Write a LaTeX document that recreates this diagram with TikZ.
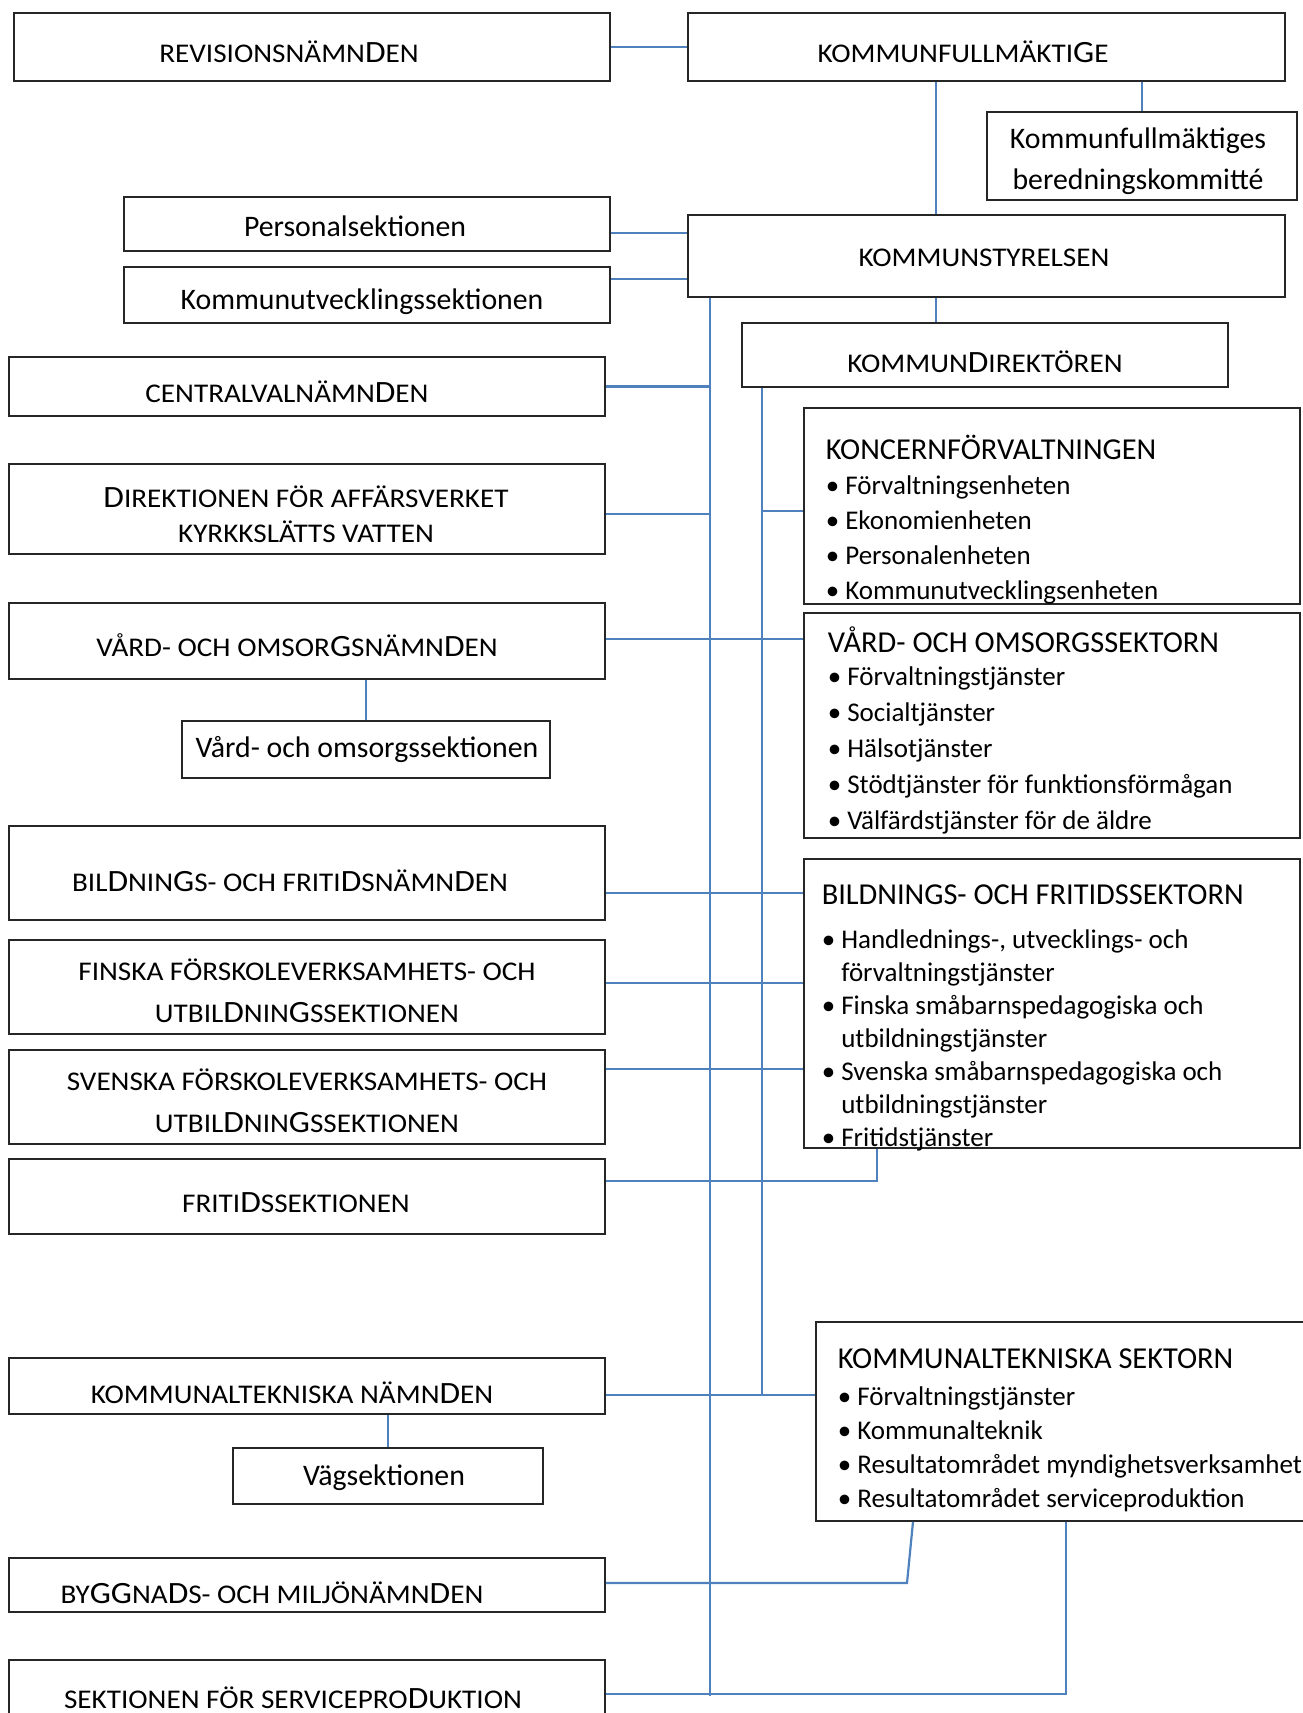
\documentclass[tikz,border=0pt]{standalone}
\usepackage{fontspec}
\setmainfont{Carlito}
\newfontfamily\scfont[FakeStretch=1.08]{Carlito}
\usetikzlibrary{fit}

\definecolor{linkblue}{RGB}{79,129,189}
\newcommand\bigD{{\fontsize{15.5}{16}\selectfont D}}
\newcommand\bigG{{\fontsize{15.5}{16}\selectfont G}}
\newcommand\itm{\textbullet\ }
\newcommand\ind{\hphantom{\textbullet\ }}
\newcommand\headfont{\fontsize{15.2}{17}\selectfont}

\tikzset{every picture/.style={line width=0.75pt},
  box/.style={draw=black!85, line width=0.8pt, inner sep=0pt},
  nmtext/.style={font=\scfont\fontsize{13.5}{#1}\selectfont, inner sep=0pt, align=center},
  nmtext/.default=17.5,
  lctext/.style={font=\fontsize{14.9}{#1}\selectfont, inner sep=0pt, align=center},
  lctext/.default=20.5,
  bullettext/.style={font=\fontsize{13.5}{#1}\selectfont, inner sep=0pt, align=left, anchor=north west},
  hline/.style={draw=linkblue, line width=1.1pt},
  vline/.style={draw=linkblue, line width=0.7pt}}

\begin{document}
\begin{tikzpicture}[x=0.5pt,y=0.5pt,yscale=-1,xscale=1]
\useasboundingbox (0,0) rectangle (1302,1713);

%Shape: Rectangle
\node [box, fit={(14,13) (610,81)}] (rev) {};
\node [box, fit={(688,13) (1285,81)}] (kf) {};
\node [box, fit={(987,112) (1297,200)}] (kfb) {};
\node [box, fit={(124,197) (610,251)}] (pers) {};
\node [box, fit={(688,215) (1285,297)}] (ks) {};
\node [box, fit={(124,267) (610,323)}] (kutv) {};
\node [box, fit={(742,323) (1228,387)}] (kd) {};
\node [box, fit={(9,357) (605,416)}] (cvn) {};
\node [box, fit={(9,464) (605,554)}] (dir) {};
\node [box, fit={(804,408) (1300,604)}] (konc) {};
\node [box, fit={(9,603) (605,679)}] (von) {};
\node [box, fit={(182,721) (550,778)}] (vos) {};
\node [box, fit={(804,613) (1300,838)}] (vosek) {};
\node [box, fit={(9,826) (605,920)}] (bfn) {};
\node [box, fit={(804,859) (1300,1148)}] (bfs) {};
\node [box, fit={(9,940) (605,1034)}] (fin) {};
\node [box, fit={(9,1050) (605,1144)}] (sve) {};
\node [box, fit={(9,1159) (605,1234)}] (frit) {};
\node [box, fit={(816,1322) (1330,1521)}] (ktsek) {};
\node [box, fit={(9,1358) (605,1414)}] (ktn) {};
\node [box, fit={(233,1448) (543,1504)}] (vag) {};
\node [box, fit={(9,1558) (605,1612)}] (bmn) {};
\node [box, fit={(9,1660) (605,1740)}] (sfs) {};

%Straight Lines
\coordinate (bustop) at (ks.south -| 710,0);
\coordinate (busend) at (710,1696);
\coordinate (kdbus) at (kd.south -| 762,0);
\coordinate (kdend) at (762,1395);
\coordinate (bmnbend) at (907,1583);
\draw [hline] (rev.east) -- (kf.west);
\draw [vline] (kf.south -| 936,0) -- (ks.north -| 936,0);
\draw [vline] (kfb.north |- kf.south) -- (kfb.north);
\draw [hline] (pers.east |- 0,233) -- (ks.west |- 0,233);
\draw [hline] (kutv.east |- 0,279) -- (ks.west |- 0,279);
\draw [vline] (ks.south -| 936,0) -- (kd.north -| 936,0);
\draw [vline] (bustop) -- (busend);
\draw [vline] (kdbus) -- (kdend);
\draw [hline] (cvn.east) -- (cvn.east -| bustop);
\draw [hline] (dir.east |- 0,514) -- (bustop |- 0,514);
\draw [hline] (kdbus |- 0,511) -- (konc.west |- 0,511);
\draw [hline] (von.east |- 0,639) -- (vosek.west |- 0,639);
\draw [vline] (vos.north |- von.south) -- (vos.north);
\draw [hline] (bfn.east |- 0,893) -- (bfs.west |- 0,893);
\draw [hline] (fin.east |- 0,983) -- (bfs.west |- 0,983);
\draw [hline] (sve.east |- 0,1069) -- (bfs.west |- 0,1069);
\draw [hline] (frit.east |- 0,1181) -| (bfs.south -| 877,0);
\draw [hline] (ktn.east |- 0,1395) -- (ktsek.west |- 0,1395);
\draw [vline] (vag.north |- ktn.south) -- (vag.north);
\draw [hline] (bmn.east |- bmnbend) -- (bmnbend) -- (ktsek.south -| 913,0);
\draw [hline] (sfs.east |- 0,1694) -| (ktsek.south -| 1066,0);

% Text Node
\node [nmtext] (revt) at (289,52) {REVISIONSNÄMN\bigD EN};
\node [nmtext] (kft) at (963,52) {KOMMUNFULLMÄKTI\bigG E};
\node [lctext] (kfbt) at (1138,161) {Kommunfullmäktiges\\beredningskommitté};
\node [lctext] (perst) at (355,226) {Personalsektionen};
\node [nmtext] (kst) at (984,258) {KOMMUNSTYRELSEN};
\node [lctext] (kutvt) at (362,302) {Kommunutvecklingssektionen};
\node [nmtext] (kdt) at (985,362) {KOMMUN\bigD IREKTÖREN};
\node [nmtext] (cvnt) at (287,392) {CENTRALVALNÄMN\bigD EN};
\node [nmtext] (dirt) at (306,514) {\bigD IREKTIONEN FÖR AFFÄRSVERKET\\KYRKKSLÄTTS VATTEN};
\node [nmtext] (vont) at (297,645) {VÅRD- OCH OMSOR\bigG SNÄMN\bigD EN};
\node [lctext] (vost) at (367,749) {Vård- och omsorgssektionen};
\node [nmtext] (bfnt) at (290,881) {BIL\bigD NIN\bigG S- OCH FRITI\bigD SNÄMN\bigD EN};
\node [nmtext=21] (fint) at (307,991) {FINSKA FÖRSKOLEVERKSAMHETS- OCH\\UTBIL\bigD NIN\bigG SSEKTIONEN};
\node [nmtext=21] (svet) at (307,1101) {SVENSKA FÖRSKOLEVERKSAMHETS- OCH\\UTBIL\bigD NIN\bigG SSEKTIONEN};
\node [nmtext] (fritt) at (296,1203) {FRITI\bigD SSEKTIONEN};
\node [nmtext] (ktnt) at (292,1393) {KOMMUNALTEKNISKA NÄMN\bigD EN};
\node [lctext] (vagt) at (384,1478) {Vägsektionen};
\node [nmtext] (bmnt) at (272,1593) {BY\bigG\bigG NA\bigD S- OCH MILJÖNÄMN\bigD EN};
\node [nmtext] (sfst) at (293,1698) {SEKTIONEN FÖR SERVICEPRO\bigD UKTION};

% Text Node
\node [bullettext=17.5] (konct) at (825,434) {{\headfont KONCERNFÖRVALTNINGEN}\\
\itm Förvaltningsenheten\\
\itm Ekonomienheten\\
\itm Personalenheten\\
\itm Kommunutvecklingsenheten};
\node [bullettext=18] (vosekt) at (827,626) {{\headfont VÅRD- OCH OMSORGSSEKTORN}\\[-1.5pt]
\itm Förvaltningstjänster\\
\itm Socialtjänster\\
\itm Hälsotjänster\\
\itm Stödtjänster för funktionsförmågan\\
\itm Välfärdstjänster för de äldre};
\node [bullettext=16.5] (bfst) at (821,884) {{\headfont BILDNINGS- OCH FRITIDSSEKTORN}\\[5.5pt]
\itm Handlednings-, utvecklings- och\\
\ind förvaltningstjänster\\
\itm Finska småbarnspedagogiska och\\
\ind utbildningstjänster\\
\itm Svenska småbarnspedagogiska och\\
\ind utbildningstjänster\\
\itm Fritidstjänster};
\node [bullettext=17] (ktsekt) at (837,1348) {{\headfont KOMMUNALTEKNISKA SEKTORN}\\[1.5pt]
\itm Förvaltningstjänster\\
\itm Kommunalteknik\\
\itm Resultatområdet myndighetsverksamhet\\
\itm Resultatområdet serviceproduktion};

\end{tikzpicture}
\end{document}
